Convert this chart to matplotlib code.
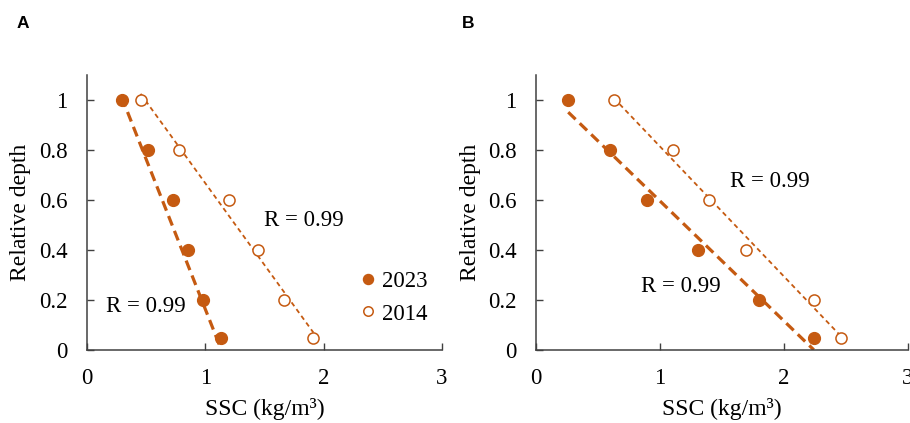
import numpy as np
import matplotlib
matplotlib.use("Agg")
import matplotlib.pyplot as plt

# ---- data ----
depth = [1.0, 0.8, 0.6, 0.4, 0.2, 0.05]
ssc_A_2023 = [0.293, 0.518, 0.730, 0.857, 0.983, 1.130]
ssc_A_2014 = [0.453, 0.780, 1.203, 1.448, 1.665, 1.913]
ssc_B_2023 = [0.260, 0.596, 0.896, 1.310, 1.795, 2.240]
ssc_B_2014 = [0.628, 1.106, 1.393, 1.696, 2.240, 2.460]
# linear trend lines (slope, intercept) as drawn in the reference
trend_A_2023 = [-1.200, 1.363]
trend_A_2014 = [-0.654, 1.321]
trend_B_2023 = [-0.480, 1.076]
trend_B_2014 = [-0.520, 1.334]
r_A_2023, r_A_2014 = 0.99, 0.99
r_B_2023, r_B_2014 = 0.99, 0.99
series_labels = ["2023", "2014"]
x_ticks = [0, 1, 2, 3]
y_ticks = [0, 0.2, 0.4, 0.6, 0.8, 1.0]
y_tick_labels = ["0", "0.2", "0.4", "0.6", "0.8", "1"]

C = "#C55A11"
SERIF = ["Liberation Serif", "DejaVu Serif"]
plt.rcParams["font.family"] = SERIF

fig = plt.figure(figsize=(9.10, 4.23), dpi=100)
W, H = 910.0, 423.0
axA = fig.add_axes([87 / W, 1 - 350 / H, (442 - 87) / W, 275 / H])
axB = fig.add_axes([536 / W, 1 - 350 / H, (908 - 536) / W, 275 / H])


def trend(ax, x, coef, lw, dashes):
    x = np.asarray(x)
    k, b = coef
    xs = np.array([x.min(), x.max()])
    ax.plot(xs, k * xs + b, color=C, lw=lw, dashes=dashes, zorder=2,
            dash_capstyle="butt")


def style(ax, ylab_x):
    ax.set_xlim(0, 3)
    ax.set_ylim(0, 1.1)
    ax.set_xticks(x_ticks)
    ax.set_xticklabels([str(t) for t in x_ticks])
    ax.set_yticks(y_ticks)
    ax.set_yticklabels(y_tick_labels)
    for s in ["top", "right"]:
        ax.spines[s].set_visible(False)
    for s in ["left", "bottom"]:
        ax.spines[s].set_color("#404040")
        ax.spines[s].set_linewidth(1.1)
    ax.tick_params(axis="y", direction="in", length=5, width=1.0,
                   color="#404040", labelsize=16.5, pad=14)
    ax.tick_params(axis="x", direction="in", length=5, width=1.0,
                   color="#404040", labelsize=16.5, pad=13)
    ax.set_xlabel("SSC (kg/m³)", fontsize=17)
    ax.set_ylabel("Relative depth", fontsize=17)
    ax.xaxis.set_label_coords(0.5, -0.175)
    ax.yaxis.set_label_coords(ylab_x, 0.5)
    ax.patch.set_visible(False)


def panel(ax, x23, x14, t23, t14, r23, r14, pos23, pos14, ylab_x):
    trend(ax, x23, t23, 2.3, (3.2, 1.8))
    trend(ax, x14, t14, 1.3, (2.6, 2.0))
    ax.plot(x23, depth, "o", color=C, ms=8.5, mec=C, zorder=3,
            label=series_labels[0])
    ax.plot(x14, depth, "o", mfc="white", mec=C, ms=8, mew=1.1, zorder=3,
            label=series_labels[1])
    ax.text(pos23[0], pos23[1], f"R = {r23:.2f}", fontsize=16.5,
            ha="center", va="center")
    ax.text(pos14[0], pos14[1], f"R = {r14:.2f}", fontsize=16.5,
            ha="center", va="center")
    style(ax, ylab_x)


panel(axA, ssc_A_2023, ssc_A_2014, trend_A_2023, trend_A_2014,
      r_A_2023, r_A_2014, (0.50, 0.175), (1.83, 0.52), -0.158)
panel(axB, ssc_B_2023, ssc_B_2014, trend_B_2023, trend_B_2014,
      r_B_2023, r_B_2014, (1.17, 0.255), (1.885, 0.675), -0.149)

axA.legend(loc="center left", bbox_to_anchor=(0.74, 0.19), frameon=False,
           fontsize=16.5, handlelength=0.6, handletextpad=0.3, labelspacing=0.5,
           markerscale=0.85, borderpad=0)

fig.text(22.7 / W, 1 - 23 / H, "A", fontsize=12.5, fontweight="bold",
         family=["Liberation Sans", "DejaVu Sans"], ha="center", va="center")
fig.text(467.7 / W, 1 - 23 / H, "B", fontsize=12.5, fontweight="bold",
         family=["Liberation Sans", "DejaVu Sans"], ha="center", va="center")

fig.savefig("out.png", dpi=100)
